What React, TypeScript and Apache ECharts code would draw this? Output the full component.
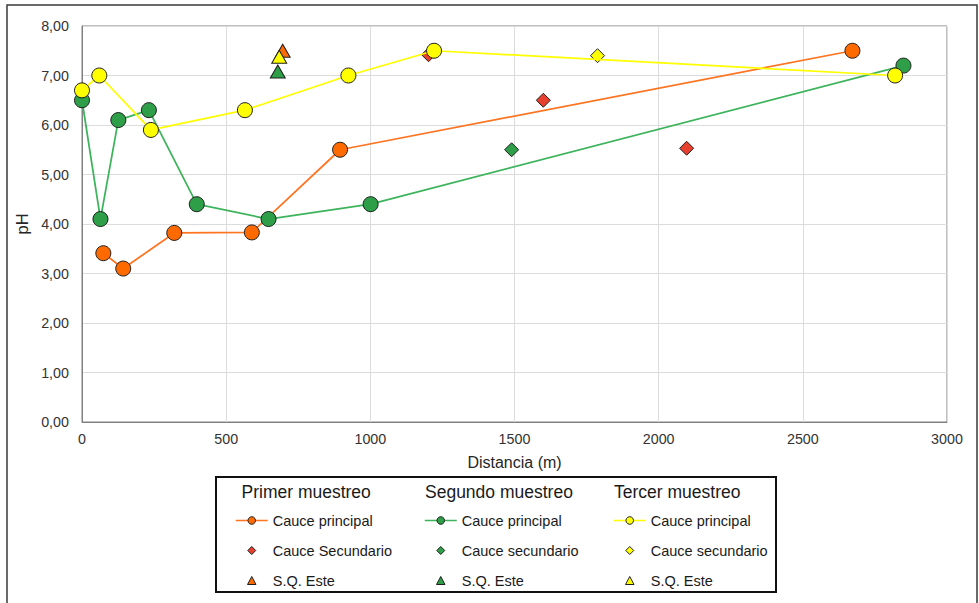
import React, { useEffect, useRef } from "react";
import * as echarts from "echarts";

// ---- Data ----
const sampleHeaders = ["Primer muestreo", "Segundo muestreo", "Tercer muestreo"];

// Cauce principal
const cpDist1 = [74, 143, 320, 589, 895, 2672];
const cpPH1 = [3.41, 3.1, 3.82, 3.83, 5.5, 7.5];
const cpDist2 = [0, 64, 126, 232, 398, 647, 1001, 2849];
const cpPH2 = [6.5, 4.1, 6.1, 6.3, 4.4, 4.1, 4.4, 7.2];
const cpDist3 = [0, 60, 239, 565, 924, 1221, 2820];
const cpPH3 = [6.7, 7.0, 5.9, 6.3, 7.0, 7.5, 7.0];

// Cauce secundario
const csDist1 = [1202, 1600, 2097];
const csPH1 = [7.42, 6.5, 5.53];
const csDist2 = [1490];
const csPH2 = [5.5];
const csDist3 = [1788];
const csPH3 = [7.4];

// S.Q. Este
const sqDist1 = [696];
const sqPH1 = [7.5];
const sqDist2 = [679];
const sqPH2 = [7.08];
const sqDist3 = [684];
const sqPH3 = [7.38];

const xTicksMax = 3000;
const yTicksMax = 8;

const FONT = "'Liberation Sans', Arial, sans-serif";

const zip = (xs: number[], ys: number[]) => xs.map((x, i) => [x, ys[i]]);

// legend icons: small symbol centred in a 64x19 box (same aspect as the legend item box)
const DIAMOND_ICON = "path://M0 0M64 19M32 1.5L40 9.5L32 17.5L24 9.5Z";
const TRIANGLE_ICON = "path://M0 0M64 19M32 1.5L40.5 17.5L23.5 17.5Z";

export default function App() {
  const ref = useRef<HTMLDivElement>(null);

  useEffect(() => {
    if (!ref.current) return;
    const chart = echarts.init(ref.current, undefined, { renderer: "svg" });

    const orangeLine = "#FF7420";
    const orangeFill = "#FF6A00";
    const greenLine = "#3DB45C";
    const greenFill = "#2E9E48";
    const yellow = "#FFFF00";
    const red = "#E8402F";
    const border = "#1f1f1f";

    const labels: Record<string, string> = {
      cp1: "Cauce principal",
      cs1: "Cauce Secundario",
      sq1: "S.Q. Este",
      cp2: "Cauce principal",
      cs2: "Cauce secundario",
      sq2: "S.Q. Este",
      cp3: "Cauce principal",
      cs3: "Cauce secundario",
      sq3: "S.Q. Este",
    };

    const lineSeries = (id: string, xs: number[], ys: number[], lc: string, fc: string) => ({
      name: id,
      type: "line",
      data: zip(xs, ys),
      symbol: "circle",
      symbolSize: 15,
      showSymbol: true,
      lineStyle: { color: lc, width: 1.75 },
      itemStyle: { color: fc, borderColor: border, borderWidth: 1 },
      emphasis: { disabled: true },
    });
    const scatterSeries = (id: string, xs: number[], ys: number[], fc: string, symbol: string, size: any) => ({
      name: id,
      type: "scatter",
      data: zip(xs, ys),
      symbol,
      symbolSize: size,
      itemStyle: { color: fc, borderColor: border, borderWidth: 1, opacity: 1 },
      emphasis: { disabled: true },
    });

    const legendBase = {
      orient: "vertical",
      top: 513,
      padding: 0,
      itemWidth: 32,
      itemHeight: 9.5,
      itemGap: 15,
      textStyle: { fontFamily: FONT, fontSize: 14.5, color: "#1a1a1a" },
      itemStyle: { borderWidth: 1, borderColor: border },
      lineStyle: { width: 1.5 },
      formatter: (n: string) => labels[n] || n,
      selectedMode: false,
    };

    const legendData = (ids: string[]) =>
      ids.map((id) => {
        if (id.startsWith("cs")) return { name: id, icon: DIAMOND_ICON };
        if (id.startsWith("sq")) return { name: id, icon: TRIANGLE_ICON };
        return { name: id };
      });

    chart.setOption({
      animation: false,
      backgroundColor: "#ffffff",
      grid: {
        left: 82,
        top: 26,
        right: 32,
        bottom: 181,
        show: true,
        borderColor: "#808080",
        borderWidth: 1,
      },
      xAxis: {
        type: "value",
        min: 0,
        max: xTicksMax,
        interval: 500,
        name: "Distancia (m)",
        nameLocation: "middle",
        nameGap: 32,
        nameTextStyle: { fontFamily: FONT, fontSize: 16, color: "#262626" },
        axisLine: { show: true, lineStyle: { color: "#808080", width: 1 } },
        axisTick: { show: false },
        axisLabel: {
          fontFamily: FONT,
          fontSize: 14.3,
          color: "#333333",
          margin: 10,
          formatter: (v: number) => String(v),
        },
        splitLine: { show: true, lineStyle: { color: "#dcdcdc", width: 1 } },
      },
      yAxis: {
        type: "value",
        min: 0,
        max: yTicksMax,
        interval: 1,
        name: "pH",
        nameLocation: "middle",
        nameGap: 46,
        nameTextStyle: { fontFamily: FONT, fontSize: 16.5, color: "#262626" },
        axisLine: { show: true, lineStyle: { color: "#808080", width: 1 } },
        axisTick: { show: false },
        axisLabel: {
          fontFamily: FONT,
          fontSize: 14.3,
          color: "#333333",
          margin: 13,
          formatter: (v: number) => v.toFixed(2).replace(".", ","),
        },
        splitLine: { show: true, lineStyle: { color: "#dcdcdc", width: 1 } },
      },
      legend: [
        { ...legendBase, left: 235, data: legendData(["cp1", "cs1", "sq1"]) },
        { ...legendBase, left: 424, data: legendData(["cp2", "cs2", "sq2"]) },
        { ...legendBase, left: 613, data: legendData(["cp3", "cs3", "sq3"]) },
      ],
      graphic: [
        {
          type: "rect",
          shape: { x: 7, y: 5, width: 970, height: 640 },
          style: { fill: "none", stroke: "#3a3a3a", lineWidth: 1.5 },
          silent: true,
        },
        {
          type: "rect",
          shape: { x: 216, y: 477, width: 560, height: 115 },
          style: { fill: "none", stroke: "#111111", lineWidth: 2 },
          silent: true,
        },
        ...sampleHeaders.map((h, i) => ({
          type: "text",
          x: [241.5, 425, 614][i],
          y: 492,
          style: {
            text: h,
            fontFamily: FONT,
            fontSize: 17.5,
            fill: "#1a1a1a",
            verticalAlign: "middle",
            align: "left",
          },
          silent: true,
        })),
      ],
      series: [
        lineSeries("cp1", cpDist1, cpPH1, orangeLine, orangeFill),
        scatterSeries("cs1", csDist1, csPH1, red, "diamond", 14),
        scatterSeries("sq1", sqDist1, sqPH1, orangeFill, "triangle", [15, 13]),
        lineSeries("cp2", cpDist2, cpPH2, greenLine, greenFill),
        scatterSeries("cs2", csDist2, csPH2, greenFill, "diamond", 14),
        scatterSeries("sq2", sqDist2, sqPH2, greenFill, "triangle", [15, 13]),
        lineSeries("cp3", cpDist3, cpPH3, yellow, yellow),
        scatterSeries("cs3", csDist3, csPH3, yellow, "diamond", 14),
        scatterSeries("sq3", sqDist3, sqPH3, yellow, "triangle", [15, 13]),
      ],
    });

    return () => chart.dispose();
  }, []);

  return (
    <div
      ref={ref}
      style={{ position: "fixed", left: 0, top: 0, width: 979, height: 603, background: "#fff" }}
    />
  );
}
